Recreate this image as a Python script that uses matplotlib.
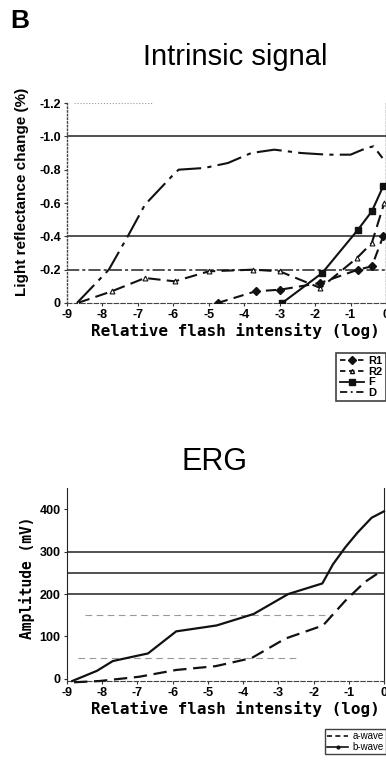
import matplotlib
matplotlib.use("Agg")
import matplotlib.pyplot as plt
from matplotlib.lines import Line2D

# ---------------- data ----------------
x_ticks = [-9, -8, -7, -6, -5, -4, -3, -2, -1, 0]

# Intrinsic signal (light reflectance change, %)
d_x = [-8.72, -7.82, -7.26, -6.8, -6.0, -5.85, -5.13, -4.46, -3.8, -3.15, -2.4, -1.66, -1.0, -0.55, -0.35, -0.1]
d_y = [0.0, -0.20, -0.41, -0.59, -0.77, -0.80, -0.81, -0.84, -0.90, -0.92, -0.90, -0.89, -0.89, -0.93, -0.94, -0.87]

r2_x = [-8.7, -7.74, -6.8, -5.96, -5.0, -3.75, -3.0, -1.85, -0.82, -0.4, -0.05]
r2_y = [0.0, -0.07, -0.15, -0.13, -0.19, -0.20, -0.19, -0.09, -0.27, -0.36, -0.60]

r1_x = [-4.75, -3.68, -2.98, -1.86, -0.79, -0.4, -0.08]
r1_y = [0.0, -0.07, -0.08, -0.12, -0.20, -0.22, -0.40]

f_x = [-2.93, -1.8, -0.79, -0.4, -0.08]
f_y = [0.0, -0.18, -0.44, -0.55, -0.70]

top_yticks = [0, -0.2, -0.4, -0.6, -0.8, -1.0, -1.2]
top_yticklabels = ["0", "-0.2", "-0.4", "-0.6", "-0.8", "-1.0", "-1.2"]
top_grid_dark = [-1.0, -0.4]
top_grid_dash = [-0.2]

# ERG amplitude (mV)
b_x = [-8.85, -8.15, -7.7, -6.7, -5.9, -4.75, -3.7, -2.72, -1.75, -1.45, -1.1, -0.75, -0.35, 0.0]
b_y = [-5, 19, 42, 60, 112, 126, 153, 200, 225, 270, 310, 345, 380, 395]

a_x = [-8.8, -8.07, -6.95, -5.9, -4.78, -3.76, -2.8, -1.73, -1.1, -0.55, -0.1]
a_y = [-8, -5, 5, 21, 30, 49, 95, 126, 184, 228, 253]

erg_yticks = [0, 100, 200, 300, 400]
erg_grid_dark = [300, 250, 200]
erg_grid_light = [150, 50]

# ---------------- figure ----------------
W, H = 386, 766
fig = plt.figure(figsize=(W / 100, H / 100), dpi=100)
fig.patch.set_facecolor("white")

def frac(px_left, px_top, px_right, px_bottom):
    return [px_left / W, 1 - px_bottom / H, (px_right - px_left) / W, (px_bottom - px_top) / H]

tick_font = dict(family="Liberation Sans", weight="bold", size=9)
mono = dict(family="DejaVu Sans Mono", weight="bold")
ink = "#111111"

# ---------- top panel ----------
ax1 = fig.add_axes(frac(67, 103, 386, 303))
ax1.set_xlim(-9, 0)
ax1.set_ylim(0, -1.2)

for g in top_grid_dark:
    ax1.axhline(g, color="#222222", lw=1.1, zorder=1)
for g in top_grid_dash:
    ax1.axhline(g, color="#222222", lw=1.1, ls=(0, (8, 2, 2, 2)), zorder=1)
ax1.hlines(-1.2, -8.8, -6.6, color="#999999", lw=0.8, ls=":", zorder=1)

ax1.plot(d_x, d_y, color=ink, lw=1.5, ls=(0, (12, 3, 2, 3)), label="D", zorder=3)
ax1.plot(r2_x, r2_y, color=ink, lw=1.5, ls=(0, (6, 3)), marker="^", ms=3.5,
         mfc="white", mec=ink, mew=0.8, zorder=3)
ax1.plot(r1_x, r1_y, color=ink, lw=1.5, ls=(0, (5, 3)), marker="D", ms=4, zorder=4)
ax1.plot(f_x, f_y, color=ink, lw=1.5, ls="-", marker="s", ms=4.5, zorder=4)

ax1.set_xticks(x_ticks)
ax1.set_xticklabels([str(v) for v in x_ticks], fontdict=tick_font)
ax1.set_yticks(top_yticks)
ax1.set_yticklabels(top_yticklabels, fontdict=tick_font)
ax1.tick_params(length=2.5, width=0.8, pad=2, color="#333333")
for s in ("left", "right"):
    ax1.spines[s].set_linestyle(":")
    ax1.spines[s].set_color("#444444")
    ax1.spines[s].set_linewidth(1.0)
ax1.spines["bottom"].set_linestyle((0, (4, 2)))
ax1.spines["bottom"].set_color("#444444")
ax1.spines["top"].set_visible(False)

# ---------- bottom panel ----------
ax2 = fig.add_axes(frac(67, 488, 384, 681))
ax2.set_xlim(-9, 0)
ax2.set_ylim(-5, 450)

for g in erg_grid_dark:
    ax2.axhline(g, color="#222222", lw=1.1, zorder=1)
ax2.hlines(erg_grid_light[0], -8.5, -1.5, color="#999999", lw=0.8, ls=(0, (6, 4)), zorder=1)
ax2.hlines(erg_grid_light[1], -8.7, -2.5, color="#999999", lw=0.8, ls=(0, (6, 4)), zorder=1)

ax2.plot(b_x, b_y, color=ink, lw=1.6, ls="-", clip_on=False, zorder=3)
ax2.plot(a_x, a_y, color=ink, lw=1.6, ls=(0, (6, 3)), clip_on=False, zorder=3)

ax2.set_xticks(x_ticks)
ax2.set_xticklabels([str(v) for v in x_ticks], fontdict=tick_font)
ax2.set_yticks(erg_yticks)
ax2.set_yticklabels([str(v) for v in erg_yticks], fontdict=tick_font)
ax2.tick_params(length=2.5, width=0.8, pad=2, color="#333333")
ax2.spines["left"].set_color("#222222")
ax2.spines["right"].set_color("#222222")
ax2.spines["bottom"].set_linestyle((0, (4, 2)))
ax2.spines["bottom"].set_color("#444444")
ax2.spines["top"].set_visible(False)

# ---------- texts ----------
def ft(px, py, s, **kw):
    fig.text(px / W, 1 - py / H, s, **kw)

ft(10, 28, "B", family="Liberation Sans", weight="bold", size=19, ha="left", va="baseline")
ft(235, 65, "Intrinsic signal", family="Liberation Sans", size=21, ha="center", va="baseline")
ft(214, 470, "ERG", family="Liberation Sans", size=22, ha="center", va="baseline")

ft(22, 192, "Light reflectance change (%)", family="Liberation Sans", weight="bold",
   size=11, rotation=90, ha="center", va="center")
ft(27, 578, "Amplitude (mV)", size=10.5, rotation=90, ha="center", va="center", **mono)

ft(235, 331, "Relative flash intensity (log)", size=11.5, ha="center", va="center", **mono)
ft(235, 709, "Relative flash intensity (log)", size=11.5, ha="center", va="center", **mono)

# ---------- legends ----------
h_top = [
    Line2D([], [], color=ink, lw=1.3, ls=(0, (3, 2)), marker="D", ms=4),
    Line2D([], [], color=ink, lw=1.3, ls=(0, (3, 2)), marker="^", ms=3, mfc="white"),
    Line2D([], [], color=ink, lw=1.3, ls="-", marker="s", ms=4),
    Line2D([], [], color=ink, lw=1.3, ls=(0, (4, 2, 1, 2))),
]
leg1 = fig.legend(h_top, ["R1", "R2", "F", "D"], loc="upper right",
                  bbox_to_anchor=(1.0, 1 - 353 / H), frameon=True, fancybox=False,
                  prop=dict(family="Liberation Sans", weight="bold", size=8),
                  handlelength=2.2, handletextpad=0.4, labelspacing=0.05,
                  borderpad=0.3, borderaxespad=0.0)
leg1.get_frame().set_edgecolor(ink)
leg1.get_frame().set_linewidth(1.2)

h_bot = [
    Line2D([], [], color=ink, lw=1.2, ls=(0, (3, 2))),
    Line2D([], [], color=ink, lw=1.2, ls="-", marker="o", ms=2),
]
leg2 = fig.legend(h_bot, ["a-wave", "b-wave"], loc="upper right",
                  bbox_to_anchor=(1.0, 1 - 729 / H), frameon=True, fancybox=False,
                  prop=dict(family="Liberation Sans", size=7),
                  handlelength=2.2, handletextpad=0.4, labelspacing=0.05,
                  borderpad=0.25, borderaxespad=0.0)
leg2.get_frame().set_edgecolor(ink)
leg2.get_frame().set_linewidth(1.0)

fig.savefig("out.png", dpi=100, facecolor="white")
